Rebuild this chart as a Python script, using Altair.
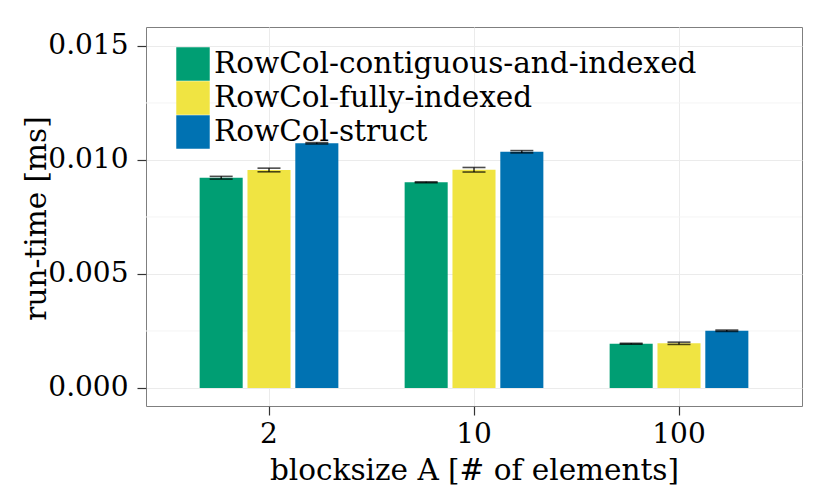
import altair as alt
import pandas as pd

blocksizes = ["2", "10", "100"]
variants = ["RowCol-contiguous-and-indexed", "RowCol-fully-indexed", "RowCol-struct"]
colors = ["#009E73", "#F0E442", "#0072B2"]

# run-time [ms] per blocksize, per variant
mean_contig = [0.00922, 0.00902, 0.00194]
mean_fully = [0.00956, 0.00957, 0.00196]
mean_struct = [0.01073, 0.01036, 0.00251]
err_contig = [0.00006, 0.00002, 0.00002]
err_fully = [0.00008, 0.00010, 0.00005]
err_struct = [0.00003, 0.00005, 0.00003]

y_ticks = [0.0, 0.005, 0.010, 0.015]
y_minor = [0.0025, 0.0075, 0.0125]

rows = []
for v, means, errs in [(variants[0], mean_contig, err_contig),
                       (variants[1], mean_fully, err_fully),
                       (variants[2], mean_struct, err_struct)]:
    for b, m, e in zip(blocksizes, means, errs):
        rows.append({"blocksize": b, "variant": v, "time": m, "lo": m - e, "hi": m + e})
df = pd.DataFrame(rows)
minor_df = pd.DataFrame({"v": y_minor})

FONT = "DejaVu Serif"
FS_TICK = 28
FS = 29.5

x_enc = alt.X("blocksize:N", sort=blocksizes,
              scale=alt.Scale(paddingInner=0.3, paddingOuter=0.25),
              axis=alt.Axis(title="blocksize A [# of elements]", labelAngle=0,
                            labelFont=FONT, titleFont=FONT,
                            labelFontSize=FS_TICK, labelColor="black", labelPadding=5,
                            tickSize=9, tickColor="#333333", tickWidth=1.2,
                            grid=True, gridColor="#EBEBEB", gridWidth=1,
                            domain=False, titleFontSize=FS, titleFontWeight="normal",
                            titleColor="black", titleY=73, titleBaseline="alphabetic"))
xo_enc = alt.XOffset("variant:N", sort=variants,
                     scale=alt.Scale(paddingInner=0.1, paddingOuter=0.05))
y_scale = alt.Scale(domain=[-0.00079, 0.01583], nice=False, zero=False)

bars = alt.Chart(df).mark_bar().encode(
    x=x_enc,
    xOffset=xo_enc,
    y=alt.Y("time:Q", scale=y_scale,
            axis=alt.Axis(title="run-time [ms]", values=y_ticks, format=".3f",
                          labelFont=FONT, titleFont=FONT,
                          labelFontSize=FS_TICK, labelColor="black", labelPadding=9,
                          tickSize=9, tickColor="#333333", tickWidth=1.2,
                          grid=True, gridColor="#EBEBEB", gridWidth=1,
                          domain=False, titleFontSize=FS, titleFontWeight="normal",
                          titleColor="black", titleAngle=-90, titleX=-101, titleY=191,
                          titleAlign="center", titleBaseline="alphabetic")),
    y2=alt.datum(0),
    color=alt.Color("variant:N", sort=variants,
                    scale=alt.Scale(domain=variants, range=colors),
                    legend=alt.Legend(title=None, orient="none", legendX=30, legendY=20,
                                      symbolType="square", symbolSize=1120,
                                      symbolStrokeWidth=0, symbolOpacity=1,
                                      labelFont=FONT,
                                      labelFontSize=FS, labelColor="black",
                                      labelOffset=4, rowPadding=0, labelLimit=600)),
)

vrules = alt.Chart(df).mark_rule(color="black", strokeWidth=1.2).encode(
    x=alt.X("blocksize:N", sort=blocksizes),
    xOffset=alt.XOffset("variant:N", sort=variants),
    y=alt.Y("lo:Q", scale=y_scale),
    y2="hi:Q",
)
cap_lo = alt.Chart(df).mark_tick(color="black", size=23, thickness=1.6, orient="horizontal").encode(
    x=alt.X("blocksize:N", sort=blocksizes),
    xOffset=alt.XOffset("variant:N", sort=variants),
    y=alt.Y("lo:Q", scale=y_scale),
)
cap_hi = alt.Chart(df).mark_tick(color="black", size=23, thickness=1.6, orient="horizontal").encode(
    x=alt.X("blocksize:N", sort=blocksizes),
    xOffset=alt.XOffset("variant:N", sort=variants),
    y=alt.Y("hi:Q", scale=y_scale),
)
minor = alt.Chart(minor_df).mark_rule(color="#F4F4F4", strokeWidth=1).encode(
    y=alt.Y("v:Q", scale=y_scale)
)

chart = alt.layer(minor, bars, vrules, cap_lo, cap_hi).properties(
    width=656, height=379,
    padding={"left": 138, "top": 19, "right": 20, "bottom": 84},
    autosize=alt.AutoSizeParams(type="none"),
).configure(
    font=FONT
).configure_view(
    stroke="#7F7F7F", strokeWidth=1
)

chart.save("out.html", embed_options={"renderer": "svg", "actions": False})
